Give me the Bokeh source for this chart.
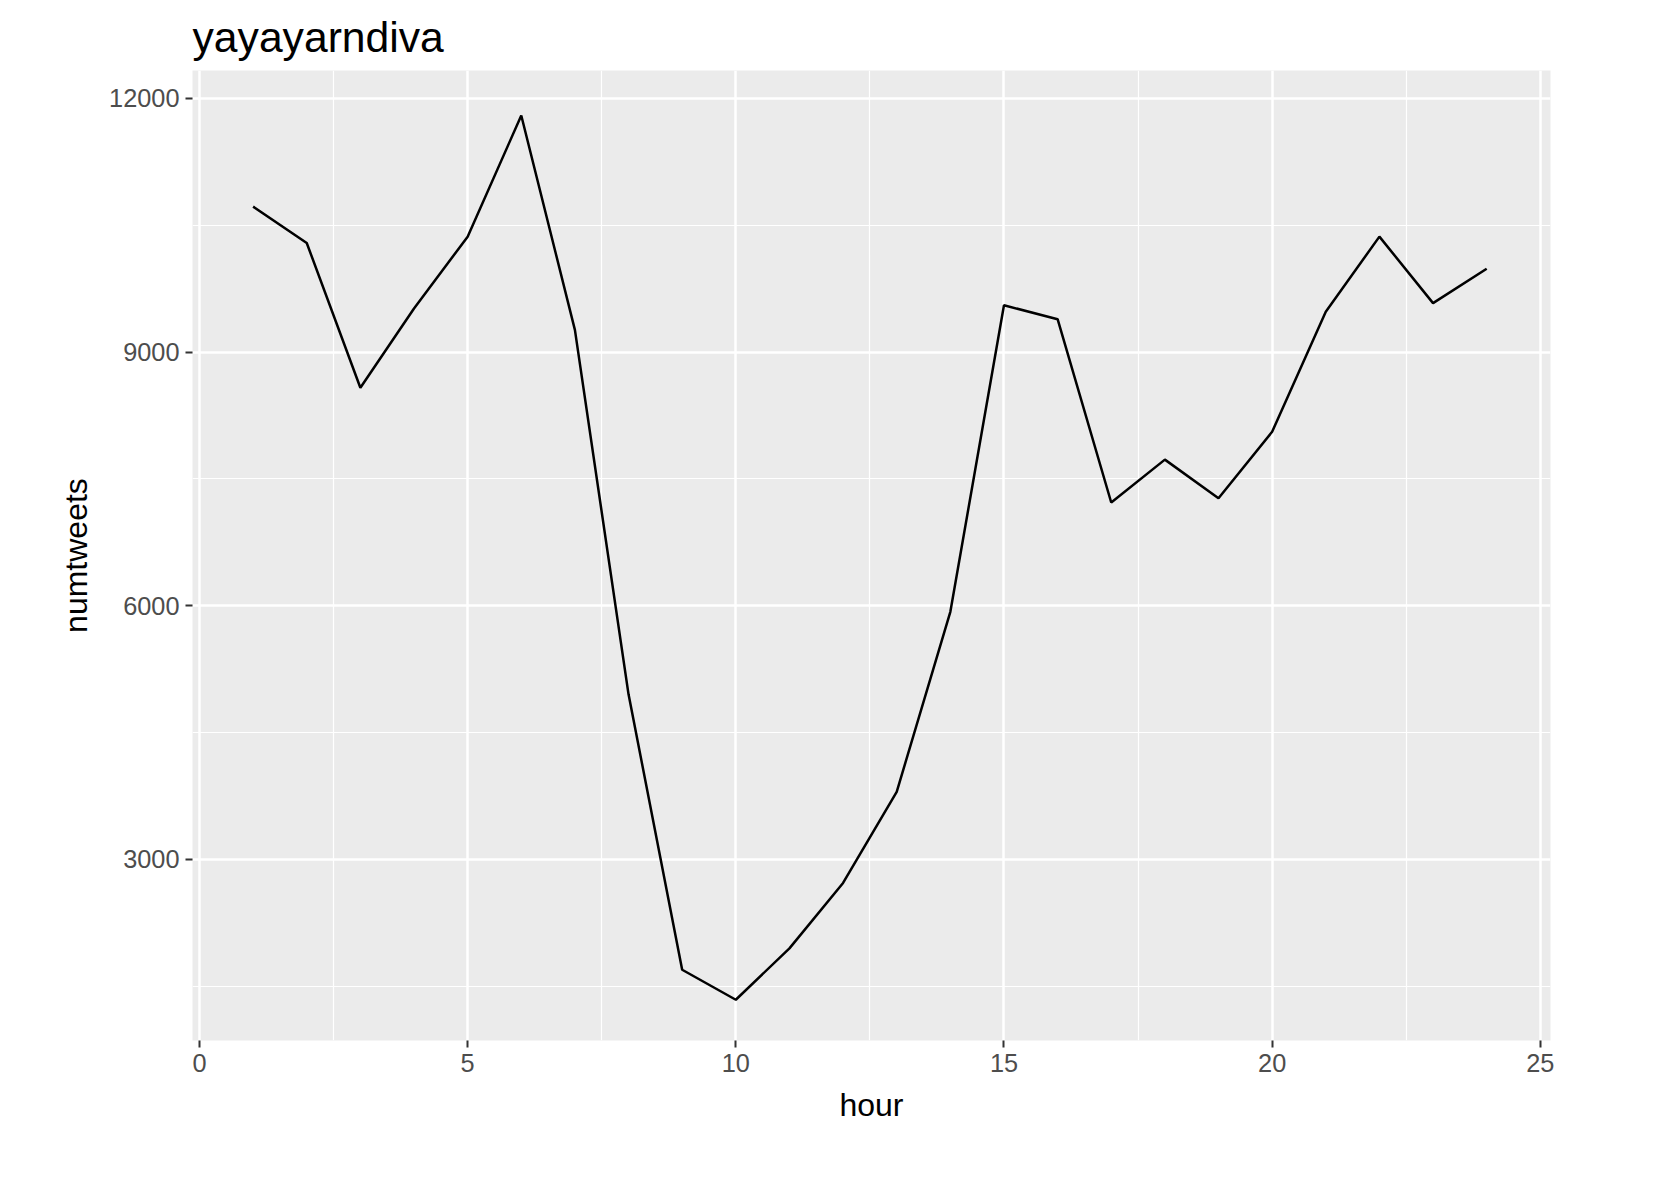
from bokeh.plotting import figure
from bokeh.models import FixedTicker, Range1d
from bokeh.embed import file_html
from bokeh.resources import INLINE

hour = list(range(1, 25))
numtweets = [10720, 10290, 8578, 9515, 10365, 11797, 9262, 4952, 1695, 1340,
             1948, 2721, 3799, 5928, 9553, 9389, 7221, 7728, 7272, 8058,
             9477, 10365, 9579, 9985]

p = figure(width=1570, height=1125, output_backend="svg", toolbar_location=None,
           x_range=Range1d(-0.13, 25.19), y_range=Range1d(858, 12330),
           title="yayayarndiva", x_axis_label="hour", y_axis_label="numtweets",
           min_border=0, min_border_left=192, min_border_right=20,
           min_border_top=10, min_border_bottom=10)

p.background_fill_color = "#ebebeb"
p.outline_line_color = None
p.title.text_font = "Liberation Sans"
p.title.text_font_size = "32pt"
p.title.text_font_style = "normal"
p.title.text_color = "black"
p.title.standoff = 20

p.xaxis.ticker = FixedTicker(ticks=[0, 5, 10, 15, 20, 25], minor_ticks=[2.5, 7.5, 12.5, 17.5, 22.5])
p.yaxis.ticker = FixedTicker(ticks=[3000, 6000, 9000, 12000], minor_ticks=[1500, 4500, 7500, 10500])

for ax in (p.xaxis, p.yaxis):
    ax.axis_line_color = None
    ax.minor_tick_line_color = None
    ax.major_tick_line_color = "#333333"
    ax.major_tick_line_width = 2
    ax.major_tick_out = 7
    ax.major_tick_in = 0
    ax.major_label_standoff = 6
    ax.major_label_text_font = "Liberation Sans"
    ax.major_label_text_font_size = "19pt"
    ax.major_label_text_color = "#4d4d4d"
    ax.axis_label_text_font = "Liberation Sans"
    ax.axis_label_text_font_size = "24pt"
    ax.axis_label_text_font_style = "normal"
    ax.axis_label_text_color = "black"
    ax.axis_label_standoff = 12

for g in (p.xgrid, p.ygrid):
    g.grid_line_color = "white"
    g.grid_line_width = 2.5
    g.minor_grid_line_color = "white"
    g.minor_grid_line_width = 1.2

p.line(hour, numtweets, line_color="black", line_width=2.5)

open("out.html", "w").write(file_html(p, INLINE))
